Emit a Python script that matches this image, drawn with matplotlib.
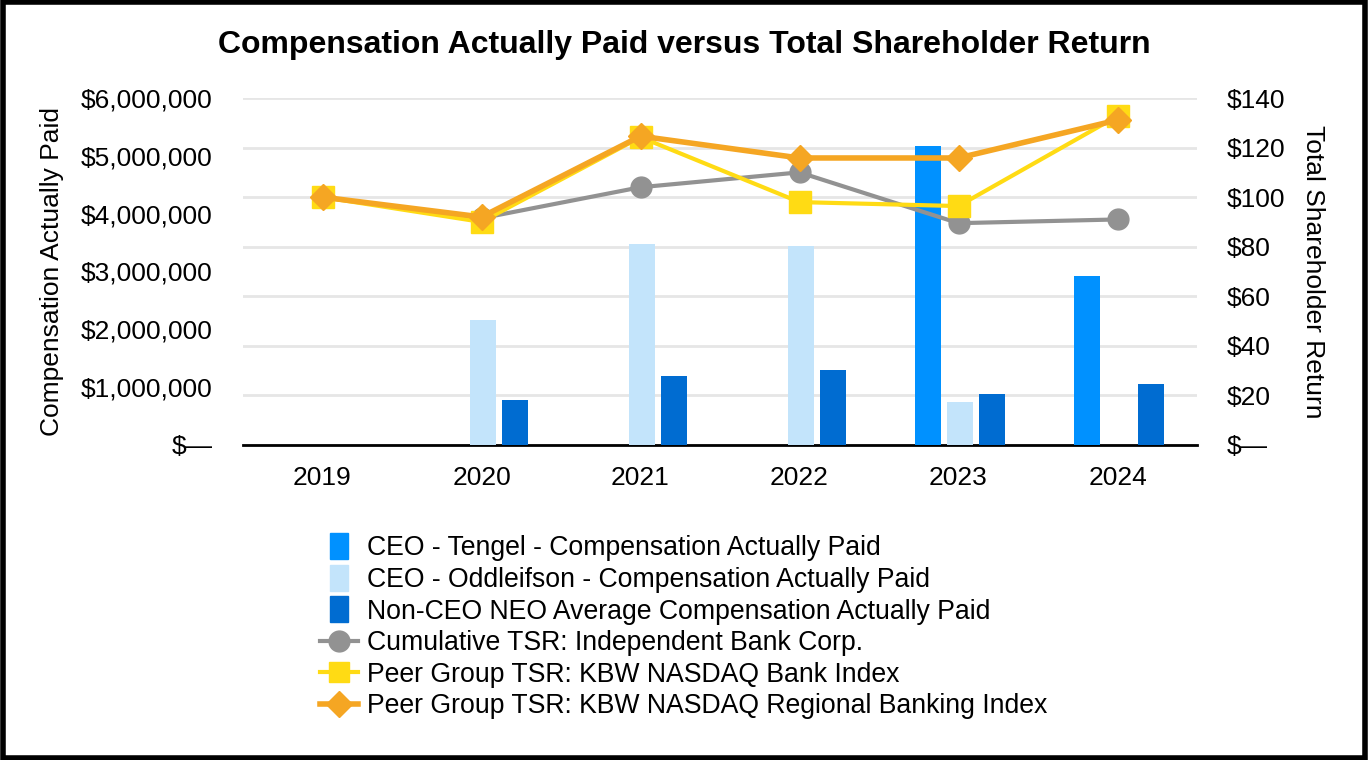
## Compensation Actually Paid vs Total Shareholder Return
import numpy as np
import matplotlib
matplotlib.use("Agg")
import matplotlib.pyplot as plt
from matplotlib.lines import Line2D
from matplotlib.patches import Patch, Rectangle
from matplotlib.legend_handler import HandlerPatch

plt.rcParams['font.family'] = ['Liberation Sans', 'DejaVu Sans']

years = ['2019', '2020', '2021', '2022', '2023', '2024']
tengel = [0, 0, 0, 0, 5170000, 2920000]
oddleifson = [0, 2160000, 3480000, 3440000, 740000, 0]
non_ceo = [0, 780000, 1190000, 1300000, 880000, 1060000]
tsr_ibc = [100, 91.5, 104, 110, 89.5, 91]
tsr_kbw_bank = [100, 90, 124.2, 98, 96.4, 132.7]
tsr_kbw_regional = [100, 92, 124.6, 115.8, 115.8, 131.1]

left_ticks = [0, 1000000, 2000000, 3000000, 4000000, 5000000, 6000000]
left_labels = ['$—', '$1,000,000', '$2,000,000', '$3,000,000', '$4,000,000', '$5,000,000', '$6,000,000']
right_ticks = [0, 20, 40, 60, 80, 100, 120, 140]
right_labels = ['$—', '$20', '$40', '$60', '$80', '$100', '$120', '$140']

labels = ['CEO - Tengel - Compensation Actually Paid',
          'CEO - Oddleifson - Compensation Actually Paid',
          'Non-CEO NEO Average Compensation Actually Paid',
          'Cumulative TSR: Independent Bank Corp.',
          'Peer Group TSR: KBW NASDAQ Bank Index',
          'Peer Group TSR: KBW NASDAQ Regional Banking Index']

c_tengel = '#0091FF'
c_odd = '#C3E4FB'
c_non = '#006CD1'
c_ibc = '#929292'
c_bank = '#FFDB14'
c_reg = '#F5A623'

W, H = 1368, 760
fig = plt.figure(figsize=(W / 100, H / 100), dpi=100)
rect = [243 / W, 1 - 445 / H, (1197 - 243) / W, (445 - 98) / H]

# base axes: TSR scale + gridlines
ax = fig.add_axes(rect)
axb = ax.twinx()   # bars, left axis
axl = ax.twinx()   # lines on top

ax.set_xlim(-0.5, 5.5)
ax.set_ylim(0, 140)
ax.yaxis.tick_right()
ax.yaxis.set_label_position('right')
ax.set_yticks(right_ticks)
ax.set_yticklabels(right_labels)
ax.grid(axis='y', color='#e6e6e6', linewidth=2)
ax.set_axisbelow(True)
ax.tick_params(axis='y', length=0, pad=21.5, labelsize=19)
ax.set_xticks(range(len(years)))
ax.set_xticklabels(years)
ax.tick_params(axis='x', length=0, pad=15, labelsize=19)
for s in ['top', 'left', 'right']:
    ax.spines[s].set_visible(False)
ax.spines['bottom'].set_linewidth(2)
ax.set_ylabel('Total Shareholder Return', rotation=-90, fontsize=19, va='center')
ax.yaxis.set_label_coords((1313 - 243) / 954, 0.5)

axb.yaxis.tick_left()
axb.yaxis.set_label_position('left')
axb.set_ylim(0, 6000000)
axb.set_yticks(left_ticks)
axb.set_yticklabels(left_labels)
axb.tick_params(axis='y', length=0, pad=22, labelsize=19, right=False, labelright=False,
                left=True, labelleft=True)
for s in axb.spines.values():
    s.set_visible(False)
axb.set_ylabel('Compensation Actually Paid', fontsize=19, va='center')
axb.yaxis.set_label_coords((52 - 243) / 954, 0.5)
x = np.arange(len(years))
bw = 0.164
axb.bar(x - 0.193, tengel, bw, color=c_tengel, linewidth=0)
axb.bar(x + 0.008, oddleifson, bw, color=c_odd, linewidth=0)
axb.bar(x + 0.208, non_ceo, bw, color=c_non, linewidth=0)

axl.set_ylim(0, 140)
axl.set_yticks([])
for s in axl.spines.values():
    s.set_visible(False)
axl.plot(x, tsr_ibc, color=c_ibc, lw=3, marker='o', ms=15)
axl.plot(x, tsr_kbw_bank, color=c_bank, lw=3, marker='s', ms=16)
axl.plot(x, tsr_kbw_regional, color=c_reg, lw=4, marker='D', ms=13)

fig.text(0.5, 1 - 45 / H, 'Compensation Actually Paid versus Total Shareholder Return',
         ha='center', va='center', fontsize=23, fontweight='bold')


def narrow_patch(legend, orig_handle, xdescent, ydescent, width, height, fontsize):
    w = height * 0.95
    return Rectangle((width / 2 - w / 2 - xdescent, -ydescent - height * 0.2), w, height * 1.4)


handles = [Patch(color=c_tengel), Patch(color=c_odd), Patch(color=c_non),
           Line2D([], [], color=c_ibc, lw=3, marker='o', ms=15),
           Line2D([], [], color=c_bank, lw=3, marker='s', ms=15),
           Line2D([], [], color=c_reg, lw=4, marker='D', ms=13)]
fig.legend(handles, labels, loc='upper left', bbox_to_anchor=(307 / W, 1 - 522 / H),
           frameon=False, fontsize=19.2, handlelength=1.4, handletextpad=0.35,
           labelspacing=0.21, borderpad=0,
           handler_map={Patch: HandlerPatch(patch_func=narrow_patch)})

fig.patches.append(Rectangle((0.002, 0.003), 0.996, 0.994, transform=fig.transFigure,
                             fill=False, edgecolor='black', linewidth=4))

fig.savefig('out.png', dpi=100)
